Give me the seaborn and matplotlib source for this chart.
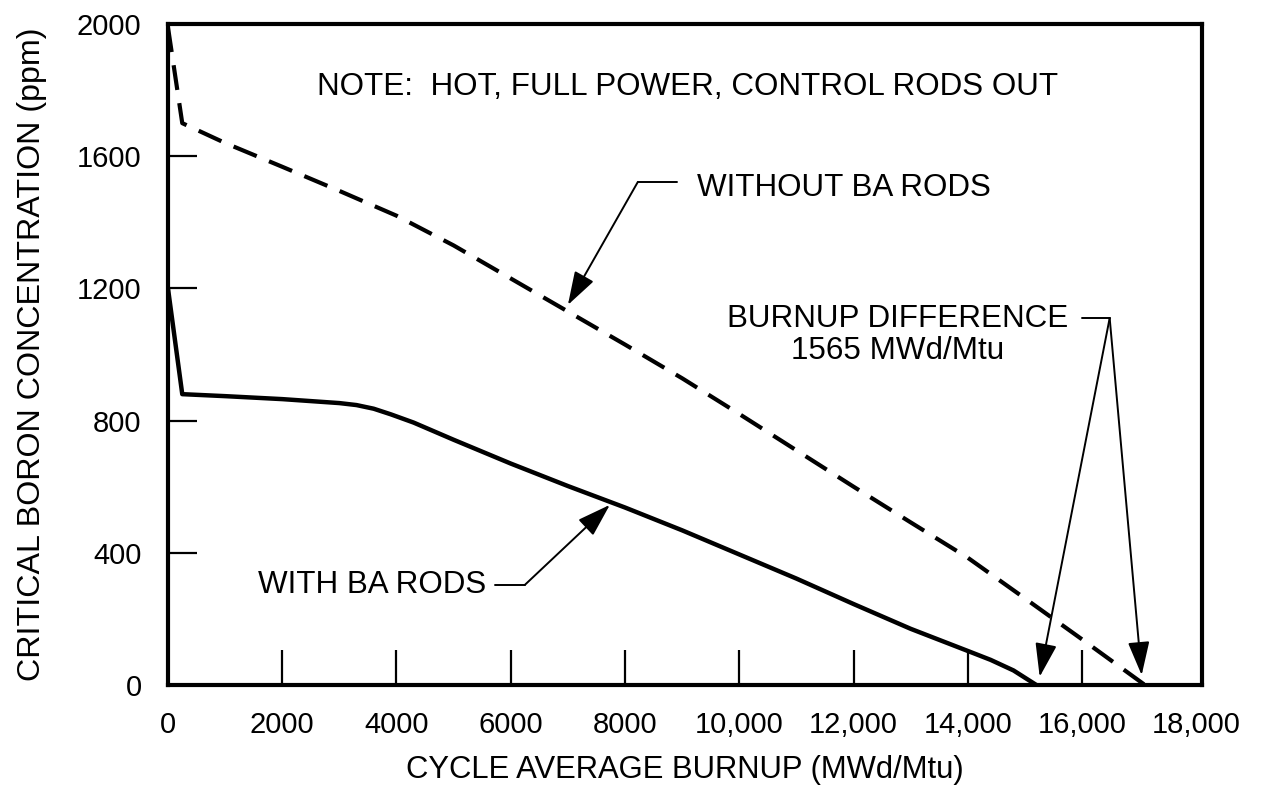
import numpy as np
import pandas as pd
import matplotlib
matplotlib.use("Agg")
import matplotlib.pyplot as plt
import seaborn as sns

# ---- data ----
burnup_without = [0, 250, 1000, 2000, 3000, 4000, 5000, 6000, 7000, 8000,
                  9000, 10000, 11000, 12000, 13000, 14000, 15000, 16000, 17100]
boron_without = [1990, 1700, 1640, 1568, 1495, 1420, 1330, 1230, 1130, 1030,
                 928, 820, 710, 600, 492, 385, 262, 138, 0]

burnup_with = [0, 250, 1000, 2000, 3000, 3300, 3600, 3900, 4300, 5000, 6000,
               7000, 8000, 9000, 10000, 11000, 12000, 13000, 14000, 14400,
               14800, 15200]
boron_with = [1200, 880, 874, 865, 853, 847, 836, 819, 794, 742, 670,
              602, 537, 468, 395, 322, 245, 170, 103, 76, 44, 0]

x_ticks = [0, 2000, 4000, 6000, 8000, 10000, 12000, 14000, 16000, 18000]
x_tick_labels = ["0", "2000", "4000", "6000", "8000", "10,000", "12,000",
                 "14,000", "16,000", "18,000"]
y_ticks = [0, 400, 800, 1200, 1600, 2000]
y_tick_labels = ["0", "400", "800", "1200", "1600", "2000"]

note_text = "NOTE:  HOT, FULL POWER, CONTROL RODS OUT"
label_without = "WITHOUT BA RODS"
label_with = "WITH BA RODS"
label_diff = "BURNUP DIFFERENCE\n1565 MWd/Mtu"

df_without = pd.DataFrame({"burnup": burnup_without, "boron": boron_without})
df_with = pd.DataFrame({"burnup": burnup_with, "boron": boron_with})

# ---- style ----
sns.set_theme(style="white")
plt.rcParams["font.family"] = ["Liberation Sans", "DejaVu Sans"]
plt.rcParams["text.color"] = "black"
plt.rcParams["axes.labelcolor"] = "black"
plt.rcParams["xtick.color"] = "black"
plt.rcParams["ytick.color"] = "black"

fig = plt.figure(figsize=(12.62, 8.0), dpi=100)
ax = fig.add_axes([0.1331, 0.14375, 0.8194, 0.82625])

sns.lineplot(data=df_without, x="burnup", y="boron", ax=ax, color="black",
             linewidth=3.0, linestyle=(0, (6.0, 3.2)), sort=False,
             estimator=None)
sns.lineplot(data=df_with, x="burnup", y="boron", ax=ax, color="black",
             linewidth=3.2, sort=False, estimator=None)

ax.set_xlim(0, 18100)
ax.set_ylim(0, 2000)

for s in ax.spines.values():
    s.set_visible(True)
    s.set_color("black")
    s.set_linewidth(3.0)

ax.set_xticks(x_ticks)
ax.set_xticklabels(x_tick_labels)
ax.set_yticks(y_ticks)
ax.set_yticklabels(y_tick_labels)
ax.tick_params(axis="x", direction="in", length=25, width=1.6, colors="black",
               labelsize=21, pad=19, bottom=True)
ax.tick_params(axis="y", direction="in", length=21, width=1.6, colors="black",
               labelsize=21, pad=19, left=True)
for t in ax.xaxis.get_major_ticks():
    if t.get_loc() in (0, 18000):
        t.tick1line.set_visible(False)
for t in ax.yaxis.get_major_ticks():
    if t.get_loc() in (0, 2000):
        t.tick1line.set_visible(False)

ax.set_xlabel("CYCLE AVERAGE BURNUP (MWd/Mtu)", fontsize=22.3, color="black")
ax.set_ylabel("CRITICAL BORON CONCENTRATION (ppm)", fontsize=23.2, color="black")
ax.xaxis.set_label_coords(0.5, -0.106)
ax.yaxis.set_label_coords(-0.117, 0.5)

# ---- annotations ----
txt_kw = dict(fontsize=22.6, color="black")
ax.text(9099, 1809, note_text, ha="center", va="center", **txt_kw)
ax.text(9256, 1504, label_without, ha="left", va="center", **txt_kw)
ax.text(1575, 303, label_with, ha="left", va="center", **txt_kw)
ax.text(12773, 1059, label_diff, ha="center", va="center",
        multialignment="center", linespacing=1.1, **txt_kw)

arrow_kw = dict(arrowstyle="-|>,head_length=1.3,head_width=0.42",
                color="black", lw=1.4, mutation_scale=16,
                shrinkA=0, shrinkB=0)

# WITHOUT BA RODS leader
ax.plot([8906, 8224], [1522, 1522], color="black", lw=1.4)
ax.annotate("", xy=(7000, 1150), xytext=(8224, 1522), arrowprops=arrow_kw)

# WITH BA RODS leader
ax.plot([5722, 6247], [303, 303], color="black", lw=1.4)
ax.annotate("", xy=(7734, 545), xytext=(6247, 303), arrowprops=arrow_kw)

# BURNUP DIFFERENCE leaders
ax.plot([16000, 16483], [1110, 1110], color="black", lw=1.4)
ax.annotate("", xy=(15258, 25), xytext=(16483, 1110), arrowprops=arrow_kw)
ax.annotate("", xy=(17043, 30), xytext=(16483, 1110), arrowprops=arrow_kw)

fig.savefig("out.png", dpi=100, facecolor="white")
